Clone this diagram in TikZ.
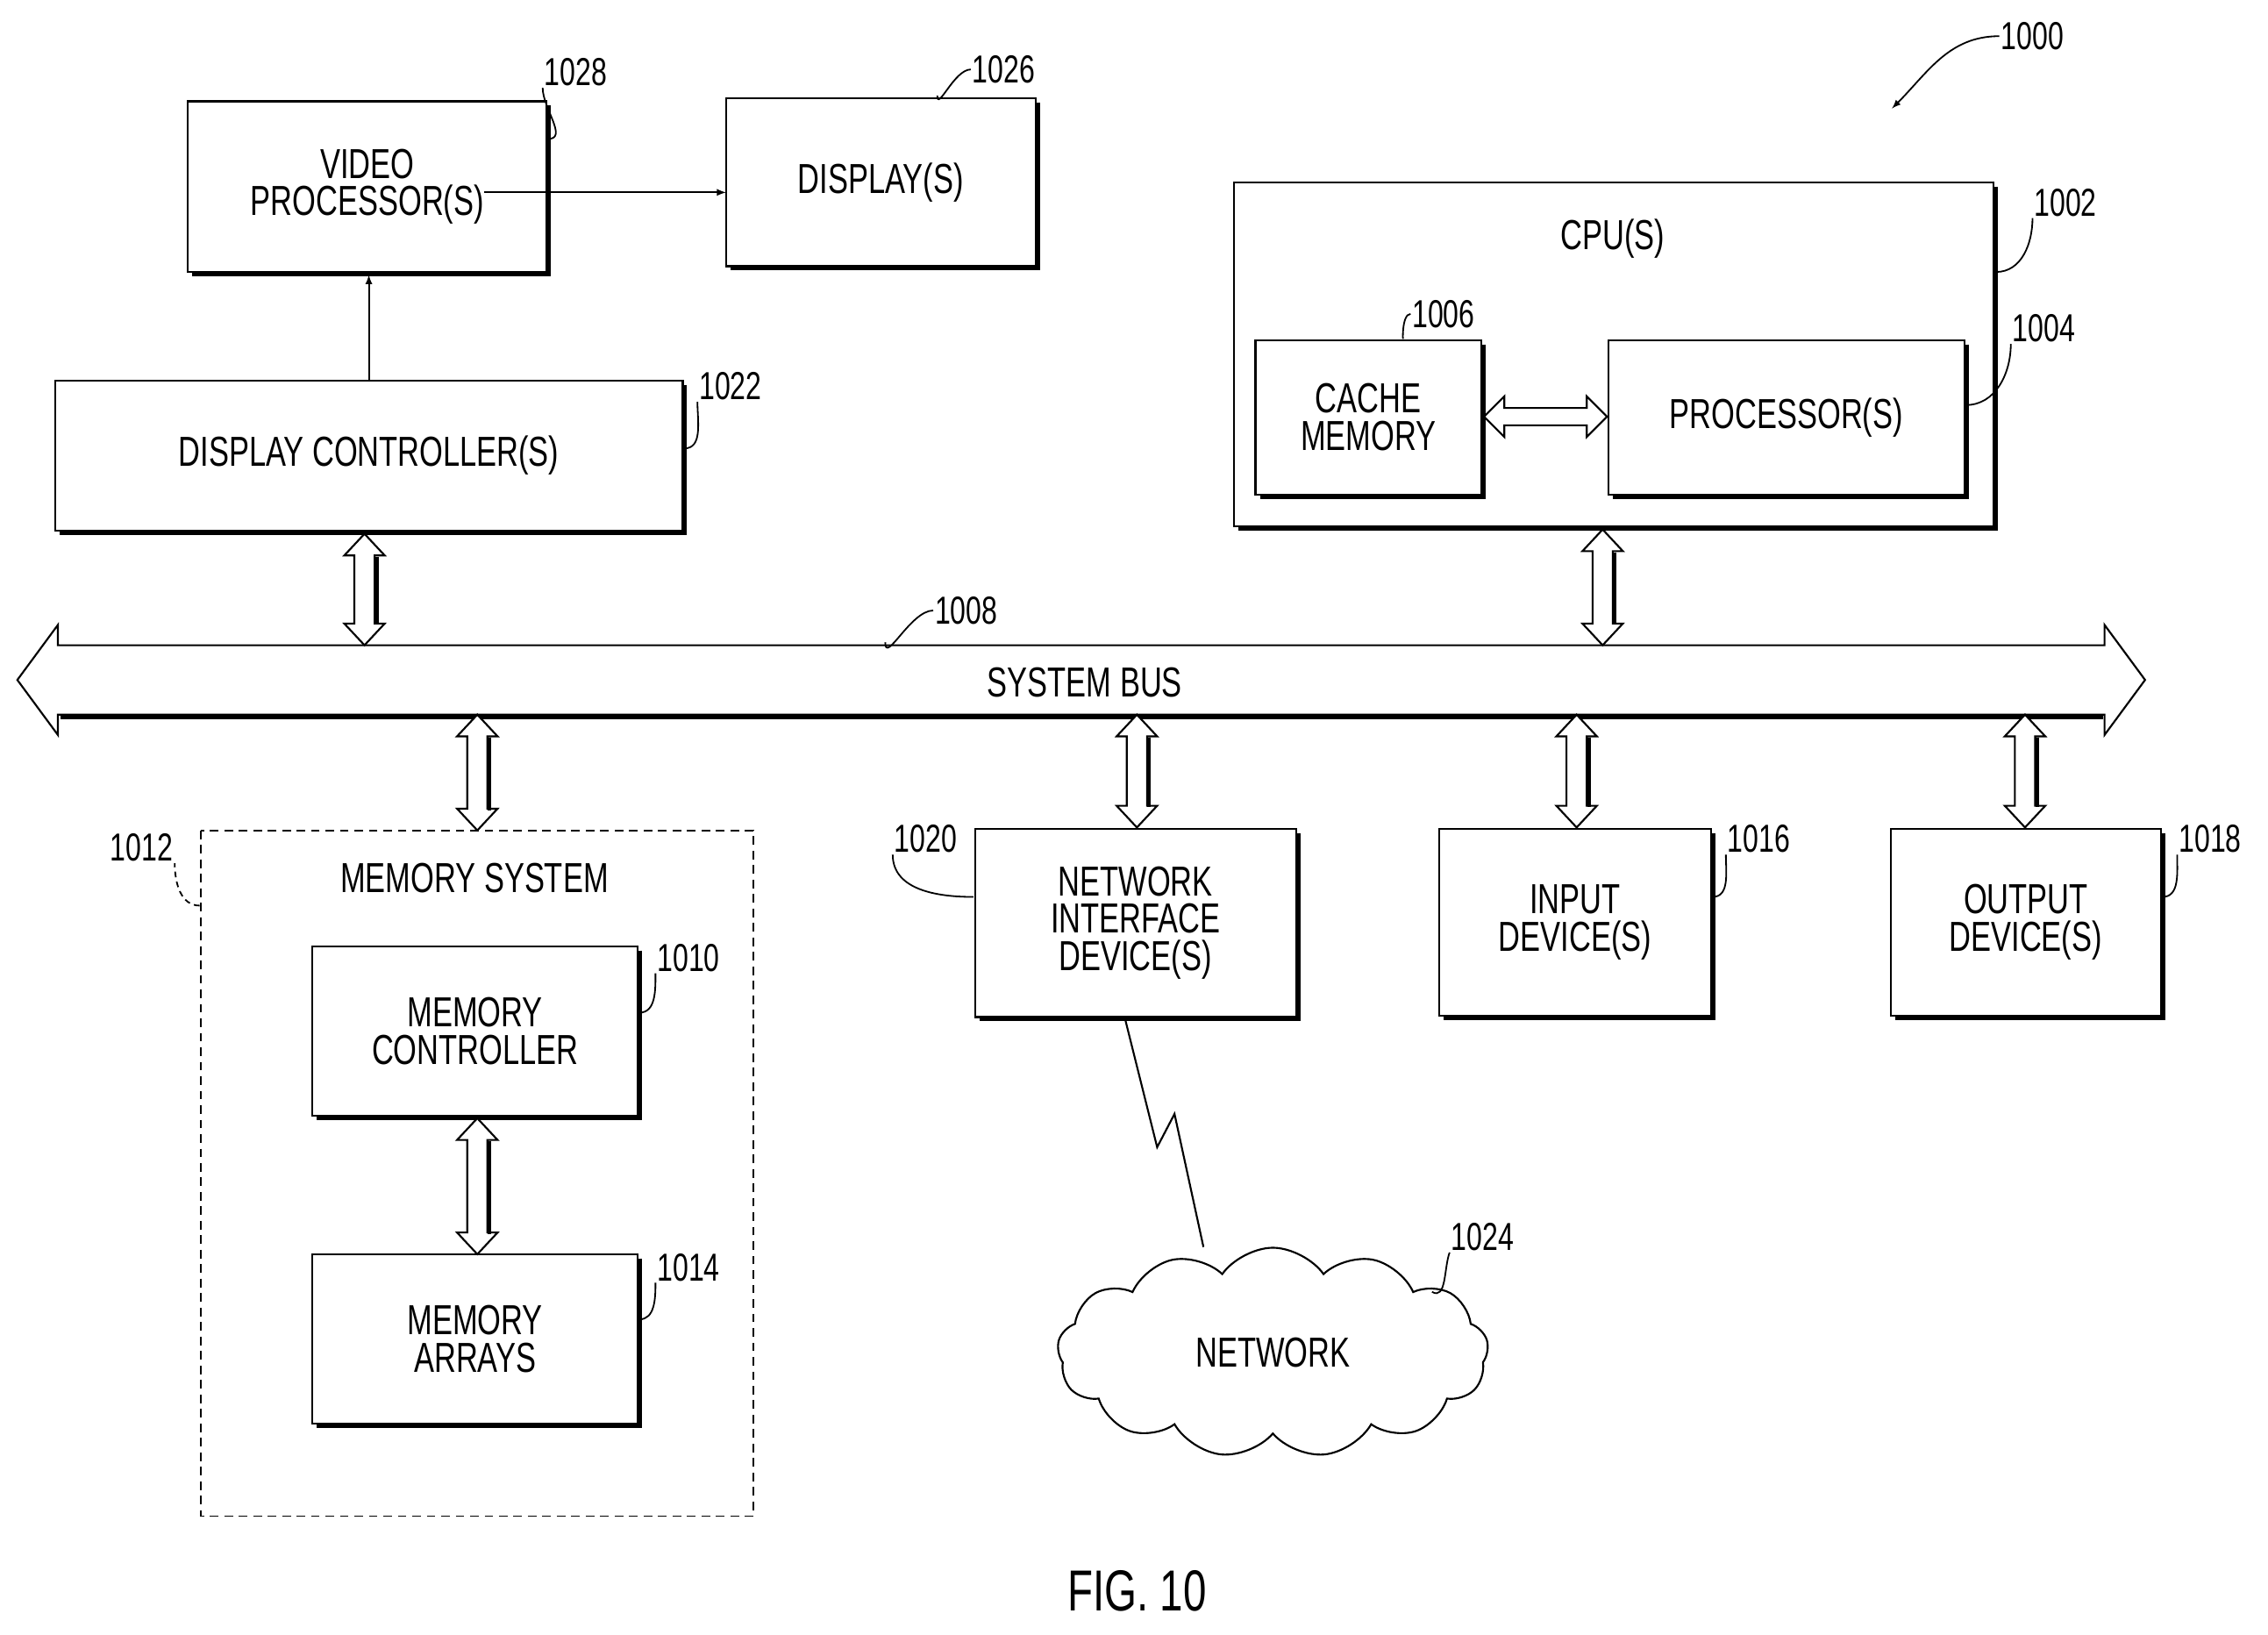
\documentclass[tikz,border=0pt]{standalone}
\usepackage{fontspec}
\setmainfont[FakeStretch=0.72]{Liberation Sans}
\usetikzlibrary{shapes.symbols}
\newcommand\bx[6]{%
 \draw[line width=1.3pt] (#2,#3) rectangle (#4,#5);
 \draw[line width=3pt] (#4+1.5,#3+3)--(#4+1.5,#5+1.5)--(#2+3,#5+1.5);
 \node[lbl,align=center] (#1) at ({(#2+#4)/2},{(#3+#5)/2}) {#6};}
\newcommand\vda[3]{\draw[hol] (#1-7,#2+15)--(#1-14,#2+15)--(#1,#2)--(#1+14,#2+15)--(#1+7,#2+15)--(#1+7,#3-15)--(#1+14,#3-15)--(#1,#3)--(#1-14,#3-15)--(#1-7,#3-15)--cycle;
 \draw[line width=2.5pt] (#1+8.5,#2+16)--(#1+8.5,#3-14);}
\begin{document}
\begin{tikzpicture}[x=1pt,y=-1pt,
 lbl/.style={font=\fontsize{29}{30}\selectfont,inner sep=0pt},
 num/.style={font=\fontsize{27}{28}\selectfont,inner sep=1pt},
 hol/.style={draw,line width=1.3pt,fill=white,line join=miter},
 ld/.style={line width=1.1pt}]
\useasboundingbox (0,0) rectangle (1568,1130);
\bx{vp}{130}{70}{378}{188}{VIDEO\\[-4pt]PROCESSOR(S)}
\bx{dsp}{502}{68}{716}{184}{DISPLAY(S)}
\bx{dc}{38}{263}{472}{367}{DISPLAY CONTROLLER(S)}
\draw[line width=1.3pt] (853,126) rectangle (1378,364);
\draw[line width=3pt] (1379.5,129)--(1379.5,365.5)--(856,365.5);
\node[lbl] (cpu) at (1115,165) {CPU(S)};
\bx{cm}{868}{235}{1024}{342}{CACHE\\[-4pt]MEMORY}
\bx{pr}{1112}{235}{1358}{342}{PROCESSOR(S)}
\draw[->,line width=1.2pt,>=latex] (vp.east|-0,133) -- (502,133) coordinate (dspin);
\draw[->,line width=1.2pt,>=latex] (255,263) coordinate (dctop) -- (255,190);
% cache-processor double arrow
\draw[hol] (1026,288)--(1040,274)--(1040,282)--(1097,282)--(1097,274)--(1111,288)--(1097,302)--(1097,294)--(1040,294)--(1040,302)--cycle;
% system bus
\draw[hol] (12,470)--(40,432)--(40,446)--(1455,446)--(1455,432)--(1483,470)--(1455,508)--(1455,494)--(40,494)--(40,508)--cycle;
\draw[line width=3pt] (42,495.5)--(1454,495.5);
\node[lbl] (bus) at (750,472) {SYSTEM BUS};
\vda{252}{369}{446}
\vda{1108}{366}{446}
\vda{330}{494}{574}
\vda{786}{494}{572}
\vda{1090}{494}{572}
\vda{1400}{494}{572}
% memory system
\draw[line width=1.1pt,dash pattern=on 6pt off 4pt] (139,574) rectangle (521,1048);
\node[lbl] (ms) at (328,607) {MEMORY SYSTEM};
\bx{mc}{216}{654}{441}{771}{MEMORY\\[-4pt]CONTROLLER}
\bx{ma}{216}{867}{441}{984}{MEMORY\\[-4pt]ARRAYS}
\vda{330}{773}{867}
\bx{nid}{674}{573}{896}{703}{NETWORK\\[-4pt]INTERFACE\\[-4pt]DEVICE(S)}
\bx{in}{995}{573}{1183}{702}{INPUT\\[-4pt]DEVICE(S)}
\bx{out}{1307}{573}{1494}{702}{OUTPUT\\[-4pt]DEVICE(S)}
\node[cloud,cloud puffs=13,cloud puff arc=110,aspect=2,draw,line width=1.3pt,minimum width=298pt,minimum height=145pt,inner sep=0pt] (net) at (880,935) {};
\node[lbl] at (net) {NETWORK};
\draw[line width=1.3pt] (778,705)--(800,793)--(812,770)--(832,862);
% numbers and leaders
\node[num] (n1028) at (398,50) {1028};
\draw[ld] (379,96) to[out=0,in=-90] (n1028.south west);
\node[num] (n1026) at (694,48) {1026};
\draw[ld] (648,66) to[out=-90,in=180] (n1026.west);
\node[num] (n1022) at (505,267) {1022};
\draw[ld] (473,310) to[out=0,in=-90] (n1022.south west);
\node[num] (n1002) at (1428,140) {1002};
\draw[ld] (1380,188) to[out=0,in=-90] (n1002.south west);
\node[num] (n1006) at (998,217) {1006};
\draw[ld] (970,233) to[out=-90,in=180] (n1006.west);
\node[num] (n1004) at (1413,227) {1004};
\draw[ld] (1359,280) to[out=0,in=-90] (n1004.south west);
\node[num] (n1008) at (668,422) {1008};
\draw[ld] (612,444) to[out=-90,in=180] (n1008.west);
\node[num] (n1012) at (98,586) {1012};
\draw[ld,dash pattern=on 4pt off 3pt] (138,626) to[out=180,in=-90] (n1012.south east);
\node[num] (n1010) at (476,662) {1010};
\draw[ld] (442,700) to[out=0,in=-90] (n1010.south west);
\node[num] (n1014) at (476,876) {1014};
\draw[ld] (442,912) to[out=0,in=-90] (n1014.south west);
\node[num] (n1020) at (640,580) {1020};
\draw[ld] (673,620) to[out=180,in=-90] (n1020.south west);
\node[num] (n1016) at (1216,580) {1016};
\draw[ld] (1184,620) to[out=0,in=-90] (n1016.south west);
\node[num] (n1018) at (1528,580) {1018};
\draw[ld] (1495,620) to[out=0,in=-90] (n1018.south west);
\node[num] (n1024) at (1025,855) {1024};
\draw[ld] (990,893) to[out=-30,in=-110] (n1024.south west);
\node[num] (n1000) at (1405,25) {1000};
\draw[ld,->,>=latex] (n1000.west) to[out=180,in=45] (1308,75);
\node[font=\fontsize{40}{40}\selectfont] (fig) at (786,1100) {FIG. 10};
\end{tikzpicture}
\end{document}
